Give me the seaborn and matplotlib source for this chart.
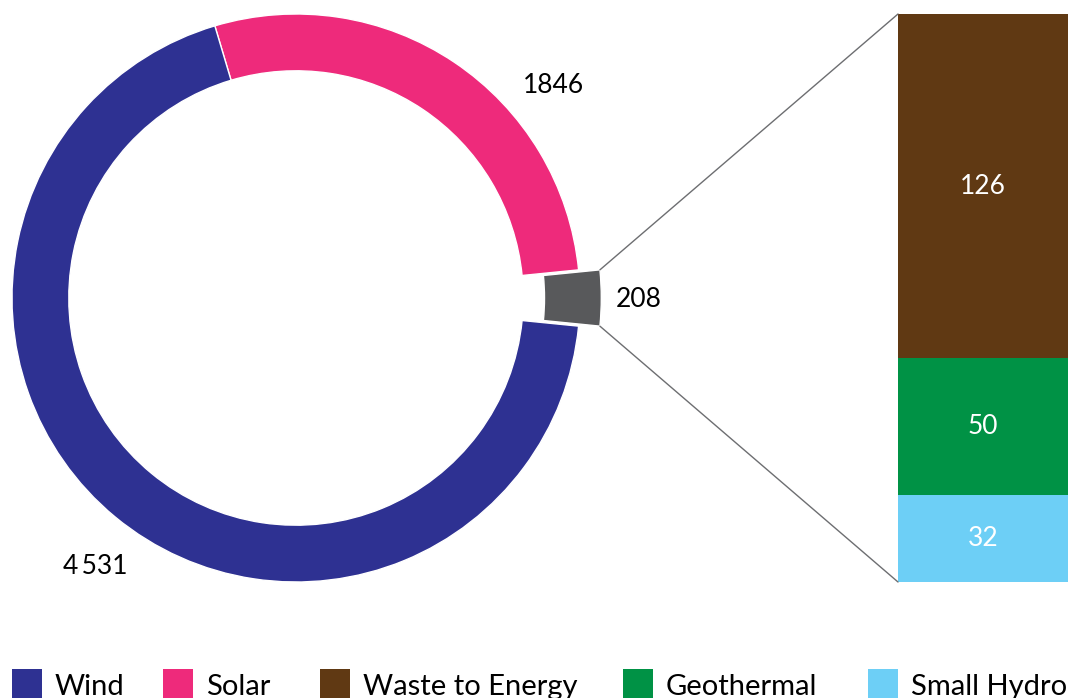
import matplotlib
matplotlib.use("Agg")
import matplotlib.pyplot as plt
from matplotlib.patches import Rectangle, ConnectionPatch
import numpy as np
import seaborn as sns
import pandas as pd

# ---- data ----
ring_categories = ["Wind", "Solar", "Other"]
ring_values = [4531, 1846, 208]
ring_labels = ["4\u2009531", "1846", "208"]
ring_colors = ["#2E3192", "#EE2A7B", "#58595B"]

bar_categories = ["Waste to Energy", "Geothermal", "Small Hydro"]
bar_values = [126, 50, 32]
bar_colors = ["#603913", "#009245", "#6DCFF6"]

legend_labels = ["Wind", "Solar", "Waste to Energy", "Geothermal", "Small Hydro"]
legend_colors = ["#2E3192", "#EE2A7B", "#603913", "#009245", "#6DCFF6"]

sns.set_theme(style="white")
plt.rcParams["font.family"] = ["Lato", "DejaVu Sans"]

W, H = 1069, 698
fig = plt.figure(figsize=(W / 100, H / 100), dpi=100)
fig.patch.set_facecolor("white")

# ---- donut ----
cx, cy, R = 296, 298, 284
lim = 1.15
side = 2 * lim * R
axp = fig.add_axes([(cx - side / 2) / W, (H - cy - side / 2) / H, side / W, side / H])
total = sum(ring_values)
other_frac = ring_values[2] / total
start = -other_frac * 360 / 2
vals = ring_values[::-1]
cols = ring_colors[::-1]
explode = [0.075, 0, 0]
axp.pie(vals, colors=cols, startangle=start, counterclock=True, explode=explode,
        radius=1.0, wedgeprops=dict(width=0.2, edgecolor="white", linewidth=1.0))
axp.set_xlim(-lim, lim)
axp.set_ylim(-lim, lim)
axp.set_aspect("equal")
axp.axis("off")

fs = 19
# label positions (in radius units)
axp.text(-0.708, -0.947, ring_labels[0], ha="center", va="center", fontsize=fs, color="black")
axp.text(0.905, 0.75, ring_labels[1], ha="center", va="center", fontsize=fs, color="black")
axp.text(1.208, -0.005, ring_labels[2], ha="center", va="center", fontsize=fs, color="black")

# ---- stacked bar ----
bx0, bx1, by0, by1 = 898, 1068, 14, 582
axb = fig.add_axes([bx0 / W, (H - by1) / H, (bx1 - bx0) / W, (by1 - by0) / H])
stack_vals = bar_values[::-1]   # bottom first: Small Hydro, Geothermal, Waste
stack_cols = bar_colors[::-1]
tops = np.cumsum(stack_vals)
for i in range(len(stack_vals) - 1, -1, -1):
    df = pd.DataFrame({"x": ["Other"], "y": [tops[i]]})
    sns.barplot(data=df, x="x", y="y", color=stack_cols[i], width=1.0, ax=axb,
                saturation=1, edgecolor="white", linewidth=0)
bottoms = np.concatenate([[0], tops[:-1]])
for v, b in zip(stack_vals, bottoms):
    axb.text(0, b + v / 2, str(v), ha="center", va="center", fontsize=fs, color="white")
axb.set_xlim(-0.5, 0.5)
axb.set_ylim(0, tops[-1])
axb.axis("off")

# ---- connector lines ----
a = np.deg2rad(other_frac * 360 / 2)
p_top = (0.075 + np.cos(a), np.sin(a))
p_bot = (0.075 + np.cos(a), -np.sin(a))
for pp, yb in [(p_top, tops[-1]), (p_bot, 0)]:
    con = ConnectionPatch(xyA=pp, coordsA=axp.transData, xyB=(-0.5, yb), coordsB=axb.transData,
                          color="#6D6E71", linewidth=1.0)
    fig.add_artist(con)

# ---- legend ----
axl = fig.add_axes([0, 0, 1, 1], facecolor="none")
axl.set_xlim(0, W)
axl.set_ylim(H, 0)
axl.axis("off")
sq_x = [12, 163, 320, 623, 868]
for x, lab, c in zip(sq_x, legend_labels, legend_colors):
    axl.add_patch(Rectangle((x, 669), 30, 30, facecolor=c, edgecolor="none", clip_on=False))
    axl.text(x + 43, 695, lab, ha="left", va="baseline", fontsize=21, color="black")

fig.savefig("out.png", dpi=100, facecolor="white")
